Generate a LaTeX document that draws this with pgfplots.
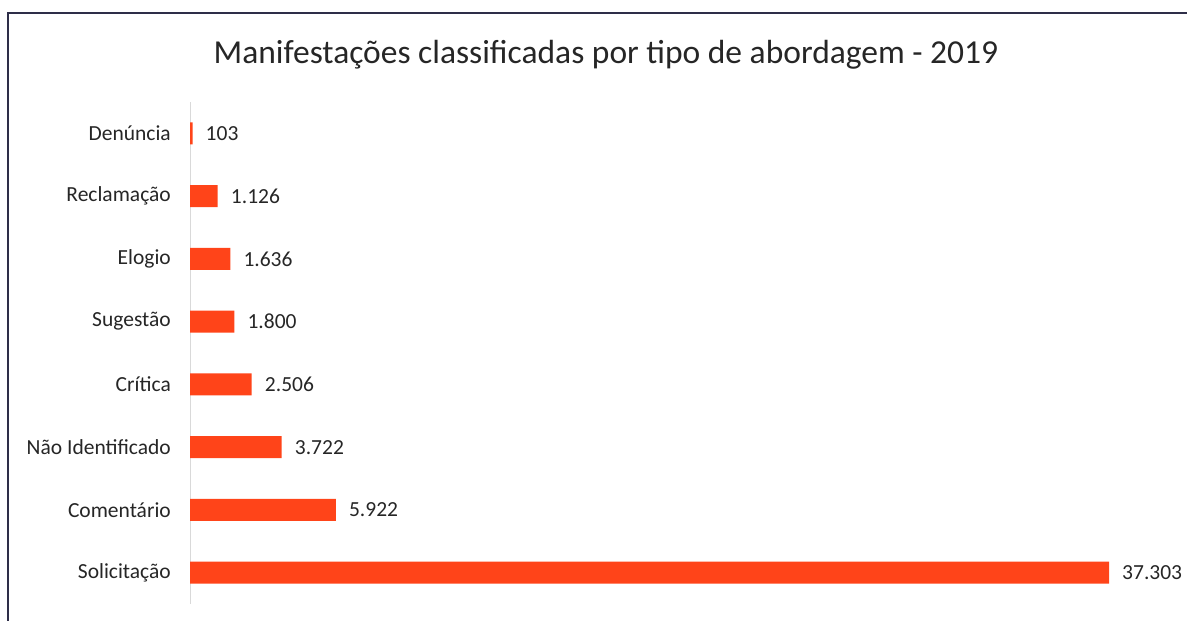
\documentclass[border=0pt]{standalone}
\usepackage{pgfplots}
\pgfplotsset{compat=1.18}
\usepackage{fontspec}
\setmainfont{Carlito}
\definecolor{barc}{HTML}{FF4419}
\definecolor{framec}{HTML}{2E2E48}
\definecolor{txt}{HTML}{262626}
\begin{document}
\begin{tikzpicture}[x=1pt,y=1pt]
\useasboundingbox (0,0) rectangle (1187,621);
\draw[framec,line width=2pt] (8,-2) -- (8,608) -- (1190,608);
\node[font=\fontsize{33.5}{40}\selectfont, text=txt] at (606,566) {Manifestações classificadas por tipo de abordagem - 2019};
\begin{axis}[at={(190pt,17pt)}, anchor=south west, scale only axis,
  width=919pt, height=502pt,
  xbar, bar width=22pt,
  xmin=0, xmax=37303, ymin=-0.5, ymax=7.5,
  axis x line=none, axis y line*=left,
  y axis line style={draw=black!15, line width=1pt},
  ytick={0,...,7},
  yticklabels={Solicitação,Comentário,Não Identificado,Crítica,Sugestão,Elogio,Reclamação,Denúncia},
  major tick length=0pt,
  yticklabel style={font=\fontsize{21.5}{24}\selectfont, text=txt, inner sep=0pt, xshift=-19pt},
  nodes near coords,
  nodes near coords style={font=\fontsize{21.5}{24}\selectfont, text=txt, inner sep=0pt, xshift=13pt},
  point meta=x,
  /pgf/number format/.cd, fixed, 1000 sep={.}, assume math mode=true, /pgfplots/.cd,
  clip=false]
\addplot[fill=barc, draw=none] coordinates {(37303,0) (5922,1) (3722,2) (2506,3) (1800,4) (1636,5) (1126,6) (103,7)};
\end{axis}
\end{tikzpicture}
\end{document}
